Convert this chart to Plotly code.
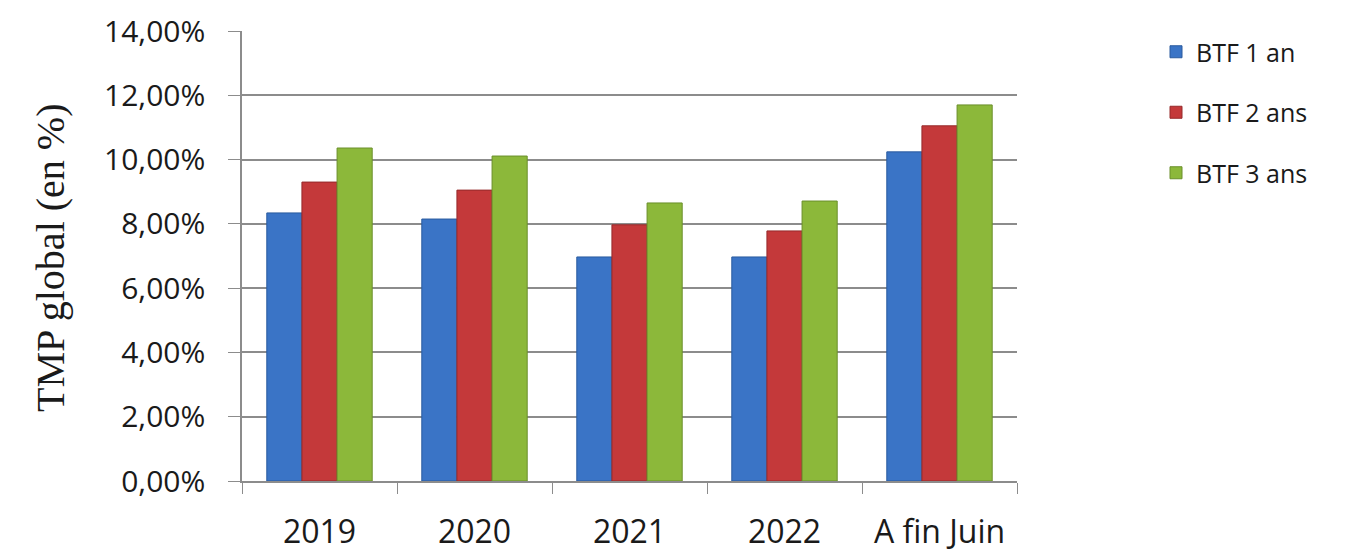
import plotly.graph_objects as go

categories = ["2019", "2020", "2021", "2022", "A fin Juin"]
btf_1an = [8.34, 8.15, 6.97, 6.97, 10.24]
btf_2ans = [9.30, 9.05, 7.97, 7.78, 11.05]
btf_3ans = [10.36, 10.11, 8.65, 8.71, 11.70]
series_names = ["BTF 1 an", "BTF 2 ans", "BTF 3 ans"]
tick_vals = [0, 2, 4, 6, 8, 10, 12, 14]
tick_text = ["0,00%", "2,00%", "4,00%", "6,00%", "8,00%", "10,00%", "12,00%", "14,00%"]

colors = ["#3a74c6", "#c4393a", "#8cb83a"]
edges = ["#2a5a9e", "#962a2b", "#6a8f2a"]

fig = go.Figure()
for i, (name, vals) in enumerate(zip(series_names, [btf_1an, btf_2ans, btf_3ans])):
    fig.add_trace(go.Bar(
        x=categories, y=vals, name=name, legendgroup=name,
        marker=dict(color=colors[i], line=dict(color=edges[i], width=1)),
    ))

# page body has an 8px margin: compensate
W, H = 1360, 545
L, T = 234, 23
PW, PH = 775, 450
R = W - L - PW
B = H - T - PH
fig.update_layout(
    width=W, height=H,
    margin=dict(l=L, r=R, t=T, b=B, autoexpand=False),
    paper_bgcolor="white", plot_bgcolor="white",
    barmode="group", bargap=0.32, bargroupgap=0,
    font=dict(family="Open Sans", color="#1a1a1a"),
    showlegend=True,
    legend=dict(x=(1156 - 242) / PW, y=(481 - 29) / PH, xanchor="left", yanchor="top",
                font=dict(size=25, family="Open Sans", color="#1a1a1a"),
                tracegroupgap=25, traceorder="grouped", itemwidth=30,
                bgcolor="rgba(0,0,0,0)"),
    xaxis=dict(
        showline=True, linecolor="#8c8c8c", linewidth=1.5,
        ticks="outside", tickson="boundaries", ticklen=11, tickcolor="#8c8c8c",
        tickfont=dict(size=32, family="Open Sans", color="#1a1a1a"),
        ticklabelstandoff=22,
        showgrid=False, fixedrange=True,
    ),
    yaxis=dict(
        range=[0, 14], tickvals=tick_vals, ticktext=tick_text,
        showline=True, linecolor="#8c8c8c", linewidth=1.5,
        ticks="outside", ticklen=12, tickcolor="#8c8c8c",
        showgrid=True, gridcolor="#8c8c8c", gridwidth=1.5,
        tickfont=dict(size=30, family="Open Sans", color="#1a1a1a"),
        ticklabelstandoff=17,
        zeroline=False, fixedrange=True,
    ),
    annotations=[dict(
        text="TMP global (en %)", textangle=-90,
        xref="paper", yref="paper", x=(50 - 242) / PW, y=(481 - 258) / PH,
        xanchor="center", yanchor="middle", showarrow=False,
        font=dict(size=40, family="Liberation Serif", color="#1a1a1a"),
    )],
)

fig.write_html("out.html")
